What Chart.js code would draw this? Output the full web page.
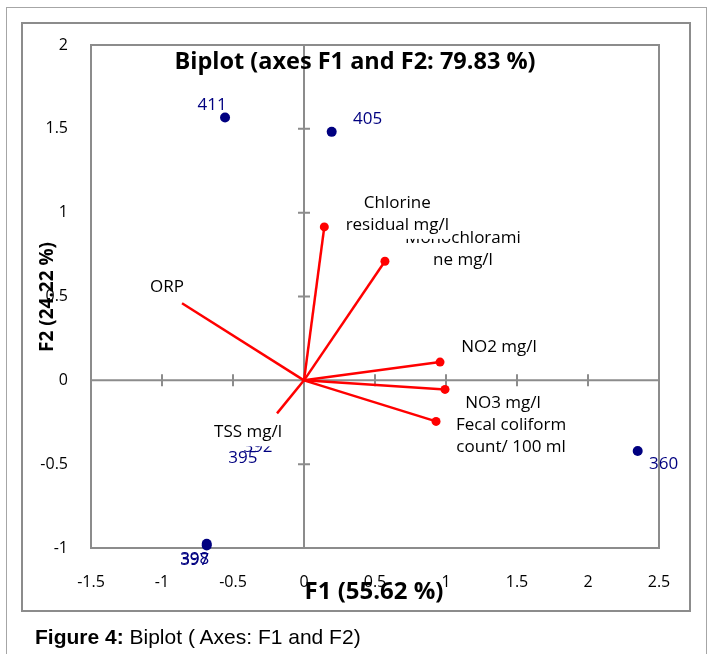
<!DOCTYPE html>
<html>
<head>
<meta charset="utf-8">
<script src="https://cdn.jsdelivr.net/npm/chart.js@4"></script>
<style>
body { margin: 0; background: #fff; overflow: hidden; }
#outer { position: absolute; left: 6px; top: 7px; width: 699px; height: 700px; border: 1px solid #a6a6a6; }
#inner { position: absolute; left: 21px; top: 22px; width: 666px; height: 586px; border: 2px solid #8c8c8c; }
#c { position: absolute; left: 0; top: 0; }
#cap { position: absolute; left: 35px; top: 625px; font: 21px/24px "Liberation Sans", Arial, sans-serif; white-space: nowrap; }
</style>
</head>
<body>
<div id="outer"></div>
<div id="inner"></div>
<canvas id="c" width="708" height="654"></canvas>
<div id="cap"><b>Figure 4:</b> Biplot ( Axes: F1 and F2)</div>
<script>
// observations (F1, F2 scores)
var obsNames = ['411', '405', '360', '398', '397', '395', '392'];
var obsF1 = [-0.556, 0.195, 2.350, -0.685, -0.685, -0.43, -0.324];
var obsF2 = [1.568, 1.482, -0.422, -0.975, -0.985, -0.466, -0.40];

// variables (loadings)
var varNames = [['Chlorine', 'residual mg/l'], ['Monochlorami', 'ne mg/l'], ['ORP'], ['NO2 mg/l'], ['NO3 mg/l'], ['Fecal coliform', 'count/ 100 ml'], ['TSS mg/l']];
var varF1 = [0.143, 0.570, -0.859, 0.958, 0.993, 0.930, -0.190];
var varF2 = [0.915, 0.710, 0.460, 0.109, -0.054, -0.245, -0.197];

var xTicks = [-1.5, -1, -0.5, 0, 0.5, 1, 1.5, 2, 2.5];
var yTicks = [-1, -0.5, 0, 0.5, 1, 1.5, 2];

// label placement / marker styling
var obsOffsets = [[-13, -12], [36, -13], [26, 13], [-12, 15], [-12, 15], [0, 0], [0, 0]];
var obsRadius = [5, 5, 5, 5, 5, 0, 0];
var varOffsets = [[73, -13], [78, -12], [-15, -16], [59, -15], [58, 14], [75, 15], [-29, 19]];
var varRadius = [4.5, 4.5, 0, 4.5, 4.5, 4.5, 0];

var NAVY = '#000080';
var FONT = '"Open Sans", "Noto Sans", sans-serif';

var datasets = [{
    label: 'Observations',
    data: obsF1.map(function (v, i) { return { x: v, y: obsF2[i] }; }),
    backgroundColor: NAVY,
    borderWidth: 0,
    pointRadius: obsRadius,
    clip: false
}];
for (var i = 0; i < varNames.length; i++) {
    datasets.push({
        label: varNames[i].join(''),
        data: [{ x: 0, y: 0 }, { x: varF1[i], y: varF2[i] }],
        showLine: true,
        borderColor: '#ff0000',
        borderWidth: 2.5,
        backgroundColor: '#ff0000',
        pointBackgroundColor: '#ff0000',
        pointBorderWidth: 0,
        pointRadius: [0, varRadius[i]],
        clip: false
    });
}

var decor = {
    id: 'decor',
    beforeDatasetsDraw: function (chart) {
        var ctx = chart.ctx, a = chart.chartArea, xs = chart.scales.x, ys = chart.scales.y;
        var x0 = xs.getPixelForValue(0), y0 = ys.getPixelForValue(0);
        ctx.save();
        ctx.strokeStyle = '#8c8c8c';
        ctx.lineWidth = 2;
        ctx.strokeRect(a.left, a.top, a.right - a.left, a.bottom - a.top);
        ctx.beginPath();
        ctx.moveTo(a.left, y0); ctx.lineTo(a.right, y0);
        ctx.moveTo(x0, a.top); ctx.lineTo(x0, a.bottom);
        xs.ticks.forEach(function (t) {
            var px = xs.getPixelForValue(t.value);
            ctx.moveTo(px, y0 - 6); ctx.lineTo(px, y0 + 6);
        });
        ys.ticks.forEach(function (t) {
            var py = ys.getPixelForValue(t.value);
            ctx.moveTo(x0 - 6, py); ctx.lineTo(x0 + 6, py);
        });
        ctx.stroke();
        ctx.restore();
    },
    afterDatasetsDraw: function (chart) {
        var ctx = chart.ctx, xs = chart.scales.x, ys = chart.scales.y;
        ctx.save();
        ctx.textAlign = 'center';
        ctx.textBaseline = 'middle';
        // observation labels
        ctx.font = '17px ' + FONT;
        ctx.fillStyle = NAVY;
        for (var i = 0; i < obsNames.length; i++) {
            ctx.fillText(obsNames[i],
                xs.getPixelForValue(obsF1[i]) + obsOffsets[i][0],
                ys.getPixelForValue(obsF2[i]) + obsOffsets[i][1]);
        }
        // variable labels with white boxes
        ctx.font = '17px ' + FONT;
        var lh = 22;
        for (var j = varNames.length - 1; j >= 0; j--) {
            var lines = varNames[j];
            var cx = xs.getPixelForValue(varF1[j]) + varOffsets[j][0];
            var cy = ys.getPixelForValue(varF2[j]) + varOffsets[j][1];
            var w = 0;
            lines.forEach(function (s) { w = Math.max(w, ctx.measureText(s).width); });
            var h = lines.length * lh;
            ctx.fillStyle = '#fff';
            ctx.fillRect(cx - w / 2 - 3, cy - h / 2 - 3, w + 6, h + 6);
            ctx.fillStyle = '#000';
            lines.forEach(function (s, k) {
                ctx.fillText(s, cx, cy - h / 2 + lh / 2 + k * lh);
            });
        }
        ctx.restore();
    },
    afterDraw: function (chart) {
        var ctx = chart.ctx;
        ctx.save();
        ctx.fillStyle = '#000';
        ctx.textAlign = 'center';
        ctx.textBaseline = 'alphabetic';
        ctx.font = 'bold 23.5px ' + FONT;
        ctx.fillText('Biplot (axes F1 and F2: 79.83 %)', 355, 69);
        ctx.font = 'bold 24px ' + FONT;
        ctx.fillText('F1 (55.62 %)', 374, 599);
        ctx.translate(53, 297);
        ctx.rotate(-Math.PI / 2);
        ctx.font = 'bold 19px ' + FONT;
        ctx.fillText('F2 (24.22 %)', 0, 0);
        ctx.restore();
    }
};

new Chart('c', {
    type: 'scatter',
    data: { datasets: datasets },
    options: {
        responsive: false,
        animation: false,
        layout: { padding: { left: 31, top: 45, right: 49, bottom: 46 } },
        plugins: { legend: { display: false }, title: { display: false }, tooltip: { enabled: false } },
        scales: {
            x: {
                type: 'linear', min: -1.5, max: 2.5,
                afterBuildTicks: function (s) { s.ticks = xTicks.map(function (v) { return { value: v }; }); },
                afterFit: function (s) { s.height = 60; },
                grid: { display: false, drawTicks: false },
                border: { display: false },
                ticks: { padding: 25, color: '#000', font: { family: FONT, size: 16 }, maxRotation: 0, callback: function (v) { return String(v); } }
            },
            y: {
                type: 'linear', min: -1, max: 2,
                afterBuildTicks: function (s) { s.ticks = yTicks.map(function (v) { return { value: v }; }); },
                afterFit: function (s) { s.width = 60; },
                grid: { display: false, drawTicks: false },
                border: { display: false },
                ticks: { padding: 23, color: '#000', font: { family: FONT, size: 16 }, callback: function (v) { return String(v); } }
            }
        }
    },
    plugins: [decor]
});
</script>
</body>
</html>
